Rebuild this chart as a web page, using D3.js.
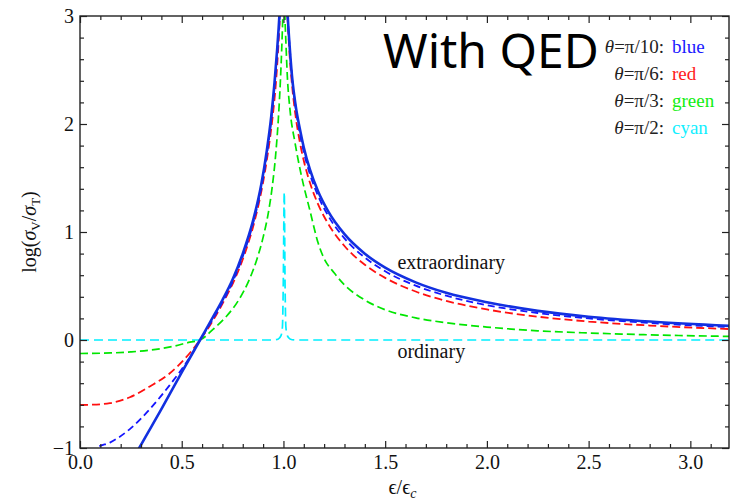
<!DOCTYPE html>
<html>
<head>
<meta charset="utf-8">
<script src="https://cdn.jsdelivr.net/npm/d3@7"></script>
<style>
  body { margin: 0; background: #fff; }
  text { font-family: "Liberation Serif", "DejaVu Serif", serif; }
</style>
</head>
<body>
<div id="chart-container"></div>
<script>
// values
const xTicks = [0, 0.5, 1, 1.5, 2, 2.5, 3];
const xTickLabels = ["0.0", "0.5", "1.0", "1.5", "2.0", "2.5", "3.0"];
const yTicks = [-1, 0, 1, 2, 3];
const yTickLabels = ["\u22121", "0", "1", "2", "3"];

// solid blue curve
const solidBlue = [
  [0.25, -1.14], [0.291, -1.0], [0.40, -0.64], [0.50, -0.30], [0.59, 0.0],
  [0.65, 0.20], [0.70, 0.37], [0.75, 0.56], [0.80, 0.80], [0.85, 1.10],
  [0.89, 1.43], [0.918, 1.75], [0.94, 2.07], [0.956, 2.38], [0.969, 2.69],
  [0.98, 3.0], [0.99, 3.4], [1.0, 3.7], [1.012, 3.4], [1.021, 3.0],
  [1.029, 2.76], [1.042, 2.445], [1.06, 2.17], [1.08, 1.96], [1.1, 1.783],
  [1.13, 1.579], [1.17, 1.377], [1.22, 1.191], [1.3, 0.98], [1.4, 0.799],
  [1.5, 0.67], [1.65, 0.534], [1.8, 0.437], [2.0, 0.35], [2.25, 0.27],
  [2.5, 0.216], [2.8, 0.171], [3.2, 0.13]
];
// theta = pi/10, blue dashed
const thetaPi10 = [
  [0.06, -1.06], [0.082, -1.0], [0.147, -0.95], [0.245, -0.825], [0.343, -0.64],
  [0.44, -0.42], [0.54, -0.16], [0.59, 0.0], [0.652, 0.19], [0.703, 0.36],
  [0.753, 0.55], [0.803, 0.79], [0.852, 1.09], [0.892, 1.42], [0.92, 1.74],
  [0.941, 2.05], [0.957, 2.36], [0.97, 2.67], [0.981, 2.98], [0.991, 3.35],
  [1.0, 3.6], [1.011, 3.3], [1.021, 2.98], [1.03, 2.727], [1.045, 2.388],
  [1.06, 2.15], [1.08, 1.917], [1.1, 1.74], [1.13, 1.536], [1.17, 1.335],
  [1.22, 1.15], [1.3, 0.941], [1.4, 0.763], [1.5, 0.636], [1.65, 0.503],
  [1.8, 0.41], [2.0, 0.323], [2.25, 0.25], [2.5, 0.20], [2.8, 0.157], [3.2, 0.119]
];
// theta = pi/6, red dashed
const thetaPi6 = [
  [0.0, -0.602], [0.05, -0.60], [0.147, -0.585], [0.245, -0.53], [0.343, -0.43],
  [0.44, -0.31], [0.54, -0.12], [0.59, 0.0], [0.66, 0.20], [0.71, 0.37],
  [0.76, 0.56], [0.81, 0.80], [0.858, 1.10], [0.897, 1.43], [0.925, 1.75],
  [0.947, 2.07], [0.963, 2.38], [0.974, 2.69], [0.983, 3.0], [0.993, 3.3],
  [1.0, 3.5], [1.012, 3.3], [1.02, 2.99], [1.03, 2.646], [1.045, 2.307],
  [1.06, 2.07], [1.08, 1.837], [1.1, 1.66], [1.13, 1.458], [1.17, 1.258],
  [1.22, 1.076], [1.3, 0.87], [1.4, 0.697], [1.5, 0.575], [1.65, 0.449],
  [1.8, 0.362], [2.0, 0.283], [2.25, 0.216], [2.5, 0.171], [2.8, 0.134], [3.2, 0.101]
];
// theta = pi/3, green dashed
const thetaPi3 = [
  [0.0, -0.125], [0.15, -0.12], [0.25, -0.11], [0.35, -0.093], [0.45, -0.062],
  [0.54, -0.02], [0.59, 0.0], [0.655, 0.10], [0.72, 0.22], [0.78, 0.37],
  [0.83, 0.55], [0.87, 0.75], [0.90, 0.95], [0.925, 1.17], [0.945, 1.42],
  [0.962, 1.72], [0.975, 2.05], [0.985, 2.4], [0.992, 2.72], [0.997, 3.0],
  [1.002, 3.3], [1.007, 3.0], [1.012, 2.76], [1.019, 2.445], [1.032, 2.135],
  [1.057, 1.825], [1.089, 1.515], [1.13, 1.2], [1.171, 0.895], [1.196, 0.77],
  [1.25, 0.62], [1.3, 0.51], [1.4, 0.37], [1.5, 0.28], [1.65, 0.205],
  [1.8, 0.16], [2.0, 0.12], [2.25, 0.085], [2.5, 0.065], [2.8, 0.048], [3.2, 0.033]
];
// theta = pi/2, cyan dashed
const thetaPi2 = [
  [0.0, 0.0], [0.95, 0.0], [0.975, 0.01], [0.988, 0.04], [0.995, 0.12],
  [0.999, 0.5], [1.004, 1.37], [1.008, 0.5], [1.012, 0.12], [1.019, 0.04],
  [1.032, 0.01], [1.06, 0.0], [3.2, 0.0]
];

const legendLabels = ["\u03b8=\u03c0/10:", "\u03b8=\u03c0/6:", "\u03b8=\u03c0/3:", "\u03b8=\u03c0/2:"];
const legendNames = ["blue", "red", "green", "cyan"];

// Set up the SVG container
const svgWidth = 730;
const svgHeight = 500;
const margin = { top: 16, right: 1, bottom: 52, left: 80 };
const width = svgWidth - margin.left - margin.right;
const height = svgHeight - margin.top - margin.bottom;

const svg = d3.select("#chart-container")
    .append("svg")
    .attr("width", svgWidth)
    .attr("height", svgHeight)
    .append("g")
    .attr("transform", `translate(${margin.left},${margin.top})`);

const x = d3.scaleLinear().domain([0, 3.19]).range([0, width]);
const y = d3.scaleLinear().domain([-1, 3]).range([height, 0]);

svg.append("clipPath").attr("id", "plotclip")
    .append("rect").attr("width", width).attr("height", height);

// curves, drawn back to front
const series = [
    { data: thetaPi2, color: "#00efff", dash: "9,5", w: 1.7 },
    { data: thetaPi3, color: "#00e600", dash: "8,4", w: 1.7 },
    { data: thetaPi6, color: "#ff1010", dash: "8,4", w: 1.8 },
    { data: thetaPi10, color: "#1515ff", dash: "7,4", w: 1.8 },
    { data: solidBlue, color: "#1230e0", dash: null, w: 2.6 }
];

const line = d3.line()
    .x(d => x(d[0]))
    .y(d => y(d[1]))
    .curve(d3.curveMonotoneX);

svg.append("g")
    .attr("clip-path", "url(#plotclip)")
    .selectAll("path")
    .data(series)
    .join("path")
    .attr("d", d => line(d.data))
    .attr("fill", "none")
    .attr("stroke", d => d.color)
    .attr("stroke-width", d => d.w)
    .attr("stroke-dasharray", d => d.dash);

// axes: major + minor ticks pointing inward on all four sides
const minorX = d3.range(0, 3.19, 0.1).filter(v => Math.abs(v * 2 - Math.round(v * 2)) > 1e-6);
const minorY = d3.range(-1, 3.001, 0.2).filter(v => Math.abs(v - Math.round(v)) > 1e-6);

function styleAxis(g) {
    g.select(".domain").remove();
    g.selectAll("line").attr("stroke", "#222").attr("stroke-width", 1.2);
    g.selectAll("text").attr("font-size", 20).attr("fill", "#111")
        .style("font-family", "Liberation Serif, DejaVu Serif, serif");
}

svg.append("g").attr("transform", `translate(0,${height})`)
    .call(d3.axisBottom(x).tickValues(xTicks).tickFormat((d, i) => xTickLabels[i])
        .tickSize(-7).tickPadding(7))
    .call(styleAxis);
svg.append("g").attr("transform", `translate(0,${height})`)
    .call(d3.axisBottom(x).tickValues(minorX).tickFormat("").tickSize(-4))
    .call(styleAxis);
svg.append("g")
    .call(d3.axisTop(x).tickValues(xTicks).tickFormat("").tickSize(-7))
    .call(styleAxis);
svg.append("g")
    .call(d3.axisTop(x).tickValues(minorX).tickFormat("").tickSize(-4))
    .call(styleAxis);

svg.append("g")
    .call(d3.axisLeft(y).tickValues(yTicks).tickFormat((d, i) => yTickLabels[i])
        .tickSize(-7).tickPadding(6))
    .call(styleAxis);
svg.append("g")
    .call(d3.axisLeft(y).tickValues(minorY).tickFormat("").tickSize(-4))
    .call(styleAxis);
svg.append("g").attr("transform", `translate(${width},0)`)
    .call(d3.axisRight(y).tickValues(yTicks).tickFormat("").tickSize(-7))
    .call(styleAxis);
svg.append("g").attr("transform", `translate(${width},0)`)
    .call(d3.axisRight(y).tickValues(minorY).tickFormat("").tickSize(-4))
    .call(styleAxis);

// frame
svg.append("rect")
    .attr("width", width)
    .attr("height", height)
    .attr("fill", "none")
    .attr("stroke", "#222")
    .attr("stroke-width", 1.4);

// axis titles
const ylab = svg.append("text")
    .attr("transform", `translate(${36 - margin.left},${y(1)}) rotate(-90)`)
    .attr("text-anchor", "middle")
    .attr("font-size", 20)
    .attr("fill", "#111");
ylab.append("tspan").text("log(");
ylab.append("tspan").attr("font-style", "italic").text("\u03c3");
ylab.append("tspan").attr("font-size", 13).attr("dy", 4).text("V");
ylab.append("tspan").attr("dy", -4).text("/");
ylab.append("tspan").attr("font-style", "italic").text("\u03c3");
ylab.append("tspan").attr("font-size", 13).attr("dy", 4).text("T");
ylab.append("tspan").attr("dy", -4).text(")");

const xlab = svg.append("text")
    .attr("x", width / 2 - 2)
    .attr("y", height + 46)
    .attr("text-anchor", "middle")
    .attr("font-size", 20)
    .attr("fill", "#111");
xlab.append("tspan").text("\u03f5/\u03f5");
xlab.append("tspan").attr("font-size", 14).attr("font-style", "italic").attr("dy", 4).text("c");

// curve annotations
svg.append("text").attr("x", x(1.56)).attr("y", y(0.66))
    .attr("font-size", 20).attr("fill", "#111").text("extraordinary");
svg.append("text").attr("x", x(1.56)).attr("y", y(-0.17))
    .attr("font-size", 20).attr("fill", "#111").text("ordinary");

// legend
const legendColors = ["#1a1aff", "#ff1a1a", "#12ee12", "#12efff"];
const legend = svg.append("g");
legendLabels.forEach((lab, i) => {
    const t = legend.append("text")
        .attr("x", 584)
        .attr("y", 37 + i * 27)
        .attr("text-anchor", "end")
        .attr("font-size", 19)
        .attr("fill", "#222");
    t.append("tspan").attr("font-style", "italic").text(lab.slice(0, 1));
    t.append("tspan").text(lab.slice(1));
    legend.append("text")
        .attr("x", 592)
        .attr("y", 37 + i * 27)
        .attr("font-size", 19)
        .attr("fill", legendColors[i])
        .text(legendNames[i]);
});

// big title, sans font
svg.append("text")
    .attr("x", 303)
    .attr("y", 52)
    .style("font-family", "'Noto Sans', 'Open Sans', sans-serif")
    .attr("font-size", 48)
    .attr("fill", "#000")
    .text("With QED");
</script>
</body>
</html>
